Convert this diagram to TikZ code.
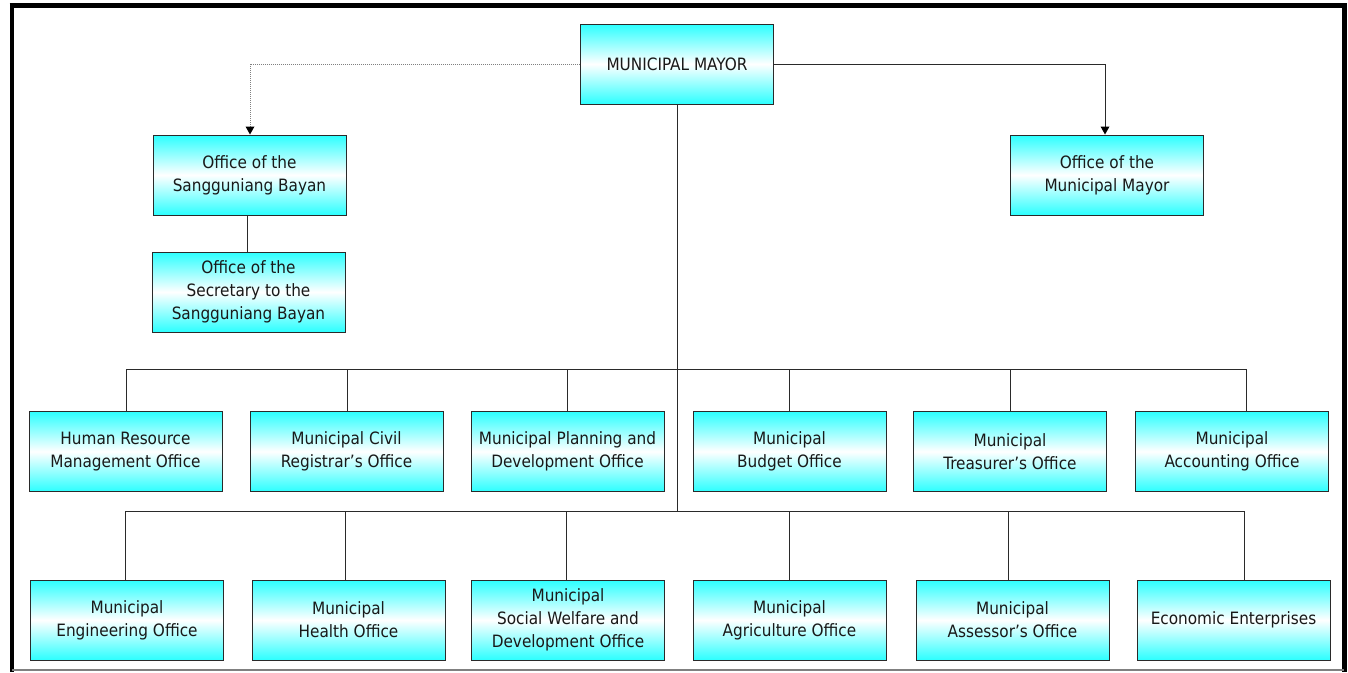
\documentclass[tikz,border=0pt]{standalone}
\usepackage{fontspec}
\setmainfont{DejaVu Sans Condensed}
\usetikzlibrary{arrows.meta}
\definecolor{aqua}{HTML}{2CFFFF}
\definecolor{lin}{HTML}{2A2A2A}
\tikzset{
  office/.style={draw=lin, line width=1pt, minimum width=193pt, minimum height=80pt,
    inner sep=0pt, top color=aqua, bottom color=aqua, middle color=white, align=center,
    text=black!90, font=\fontsize{17}{23}\selectfont},
  conn/.style={draw=lin, line width=0.8pt},
  dotconn/.style={draw=gray, line width=1pt, dash pattern=on 1pt off 1pt},
  tip/.style={-{Triangle[length=8pt,width=9pt,color=black,line width=0pt]}}
}
\begin{document}
\begin{tikzpicture}[x=1pt,y=-1pt]
\useasboundingbox (0,0) rectangle (1348,672);
% frame
\draw[line width=4.5pt] (9.5,5.5) -- (1347,5.5);
\draw[line width=4.5pt] (12,3.5) -- (12,672);
\draw[line width=4.5pt] (1344.5,3.5) -- (1344.5,672);
\draw[gray, line width=1.2pt] (12,670) -- (1344,670);
% top
\node[office] (mayor) at (677,64) {MUNICIPAL MAYOR};
\node[office] (sb) at (249.5,175) {Office of the\\Sangguniang Bayan};
\node[office] (sec) at (248.5,292) {Office of the\\Secretary to the\\Sangguniang Bayan};
\node[office] (omm) at (1107,175) {Office of the\\Municipal Mayor};
% row 1
\node[office] (hrmo) at (125.5,451.5) {Human Resource\\Management Office};
\node[office] (mcr) at (346.5,451.5) {Municipal Civil\\Registrar’s Office};
\node[office] (mpdo) at (567.5,451.5) {Municipal Planning and\\Development Office};
\node[office] (mbo) at (789.5,451.5) {Municipal\\Budget Office};
\node[office] (mto) at (1010,451.5) {Municipal\\Treasurer’s Office};
\node[office] (mao) at (1232,451.5) {Municipal\\Accounting Office};
% row 2
\node[office] (meo) at (127,620) {Municipal\\Engineering Office};
\node[office] (mho) at (348.5,620) {Municipal\\Health Office};
\node[office] (mswdo) at (568,620) {Municipal\\Social Welfare and\\Development Office};
\node[office] (magro) at (789.5,620) {Municipal\\Agriculture Office};
\node[office] (masso) at (1012.5,620) {Municipal\\Assessor’s Office};
\node[office] (ee) at (1233.5,620) {Economic Enterprises};
% connectors top
\coordinate (dl) at (250,64);
\coordinate (dr) at (1105,64);
\draw[dotconn, tip] (mayor.west) -- (dl) -- (sb.north -| dl);
\draw[conn, tip] (mayor.east) -- (dr) -- (omm.north -| dr);
\draw[conn] (sb.south -| 247,0) -- (sec.north -| 247,0);
% trunk and buses
\coordinate (b2) at (677,511);
\draw[conn] (mayor.south) -- (b2);
\draw[conn] (126,369) -- (1246,369);
\draw[conn] (125,511) -- (1244,511);
\foreach \n/\x in {hrmo/126, mcr/347, mpdo/567, mbo/789, mto/1010, mao/1246}
  \draw[conn] (\x,369) -- (\n.north -| \x,0);
\foreach \n/\x in {meo/125, mho/345, mswdo/566, magro/789, masso/1008, ee/1244}
  \draw[conn] (\x,511) -- (\n.north -| \x,0);
\end{tikzpicture}
\end{document}
